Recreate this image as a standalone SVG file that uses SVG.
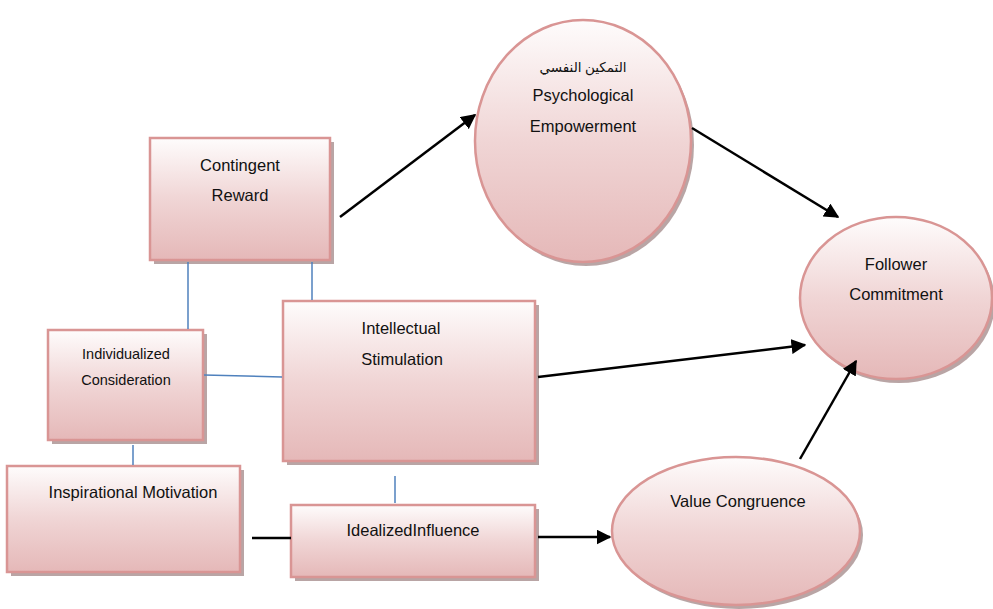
<svg xmlns="http://www.w3.org/2000/svg" width="993" height="609" viewBox="0 0 993 609">
<defs>
<linearGradient id="g" x1="0" y1="0" x2="0" y2="1">
<stop offset="0" stop-color="#fefcfc"/>
<stop offset="0.5" stop-color="#f0d5d5"/>
<stop offset="1" stop-color="#e5b8b8"/>
</linearGradient>
<marker id="ah" viewBox="0 0 10 10" refX="9" refY="5" markerWidth="6" markerHeight="6" markerUnits="strokeWidth" orient="auto">
<path d="M0,0 L10,5 L0,10 z" fill="#000"/>
</marker>
<style>
.n{fill:url(#g);stroke:#d99594;stroke-width:2.5}
.s{fill:#a88e8e;opacity:0.8}
.t{font-family:"Liberation Sans",Arial,sans-serif;font-size:16.5px;fill:#111;text-anchor:middle}
.sm{font-size:14.5px}
.ar{font-family:"Noto Sans","DejaVu Sans",sans-serif;font-size:13.5px}
.b{stroke:#4f81bd;stroke-width:1.5;fill:none}
.k{stroke:#000;stroke-width:2.5;fill:none}
</style>
</defs>
<rect width="993" height="609" fill="#fff"/>
<g id="contingent-reward">
<rect class="s" x="154" y="142" width="180" height="122"/>
<rect class="n" x="150" y="138" width="180" height="122"/>
<text class="t" x="240" y="171">Contingent</text>
<text class="t" x="240" y="201">Reward</text>
</g>
<g id="psychological-empowerment">
<ellipse class="s" cx="586" cy="145" rx="108" ry="121"/>
<ellipse class="n" cx="583" cy="141" rx="108" ry="121"/>
<text class="t ar" x="583" y="72">التمكين النفسي</text>
<text class="t" x="583" y="101">Psychological</text>
<text class="t" x="583" y="132">Empowerment</text>
</g>
<g id="follower-commitment">
<ellipse class="s" cx="899" cy="302" rx="96" ry="81"/>
<ellipse class="n" cx="896" cy="298" rx="96" ry="81"/>
<text class="t" x="896" y="270">Follower</text>
<text class="t" x="896" y="300">Commitment</text>
</g>
<g id="individualized-consideration">
<rect class="s" x="52" y="334" width="155" height="110"/>
<rect class="n" x="48" y="330" width="155" height="110"/>
<text class="t sm" x="126" y="359">Individualized</text>
<text class="t sm" x="126" y="385">Consideration</text>
</g>
<g id="intellectual-stimulation">
<rect class="s" x="287" y="305" width="252" height="160"/>
<rect class="n" x="283" y="301" width="252" height="160"/>
<text class="t" x="401" y="334">Intellectual</text>
<text class="t" x="402" y="365">Stimulation</text>
</g>
<g id="inspirational-motivation">
<rect class="s" x="11" y="470" width="233" height="106"/>
<rect class="n" x="7" y="466" width="233" height="106"/>
<text class="t" x="133" y="498">Inspirational Motivation</text>
</g>
<g id="idealized-influence">
<rect class="s" x="295" y="509" width="244" height="72"/>
<rect class="n" x="291" y="505" width="244" height="72"/>
<text class="t" x="413" y="536">IdealizedInfluence</text>
</g>
<g id="value-congruence">
<ellipse class="s" cx="739" cy="535" rx="124" ry="74"/>
<ellipse class="n" cx="736" cy="531" rx="124" ry="74"/>
<text class="t" x="738" y="507">Value Congruence</text>
</g>
<g id="connectors">
<line class="b" x1="188" y1="262" x2="188" y2="329"/>
<line class="b" x1="312" y1="262" x2="312" y2="300"/>
<line class="b" x1="204" y1="375" x2="282" y2="377"/>
<line class="b" x1="133" y1="445" x2="133" y2="465"/>
<line class="b" x1="395" y1="476" x2="395" y2="503"/>
<line class="k" x1="340" y1="217" x2="475" y2="115" marker-end="url(#ah)"/>
<line class="k" x1="692" y1="128" x2="838" y2="217" marker-end="url(#ah)"/>
<line class="k" x1="538" y1="377" x2="805" y2="345" marker-end="url(#ah)"/>
<line class="k" x1="800" y1="459" x2="856" y2="361" marker-end="url(#ah)"/>
<line class="k" x1="252" y1="538" x2="291" y2="538"/>
<line class="k" x1="538" y1="537" x2="610" y2="537" marker-end="url(#ah)"/>
</g>
</svg>
